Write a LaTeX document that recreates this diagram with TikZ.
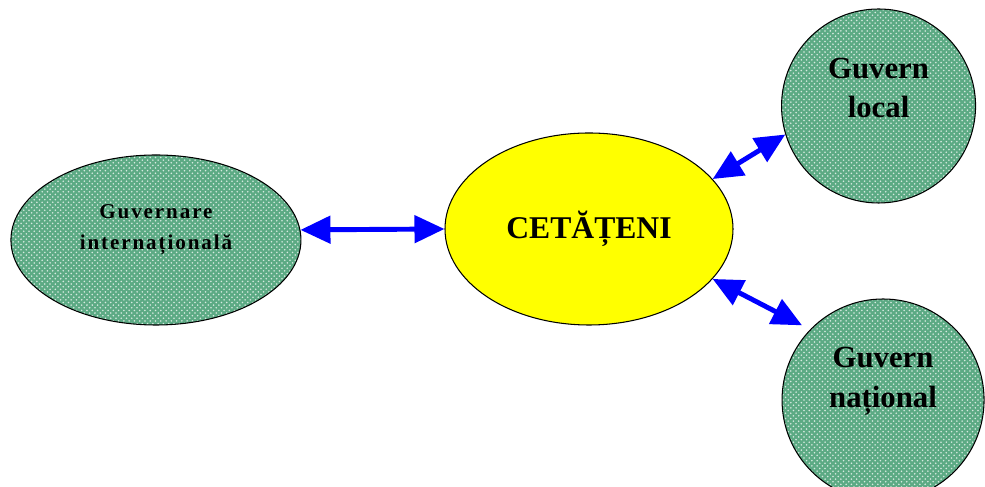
\documentclass[tikz,border=0pt]{standalone}
\usepackage{fontspec}
\setmainfont{Liberation Serif}
\newfontfamily\spacedfont[LetterSpace=9]{Liberation Serif}
\usepackage{tikz}
\usetikzlibrary{arrows.meta, shapes.geometric, positioning, patterns, calc}
\definecolor{govgreen}{RGB}{92,170,132}
\definecolor{citizenyellow}{RGB}{255,255,0}

\begin{document}
\begin{tikzpicture}[
    gov/.style={draw=black, line width=0.6pt, preaction={fill=govgreen}, pattern=crosshatch dots, pattern color=white!75!govgreen, inner sep=0pt},
    txt/.style={align=center, inner sep=0pt},
    link/.style={{Triangle[length=0.6cm,width=0.54cm]}-{Triangle[length=0.6cm,width=0.54cm]}, blue, line width=2.8pt},
    node distance=1cm
  ]
  \useasboundingbox (-11.78,-5.16) rectangle (7.92,4.58);
  % citizens in the middle
  \node[ellipse, draw=black, line width=0.6pt, fill=citizenyellow, minimum width=5.76cm, minimum height=3.84cm, inner sep=0pt,
        font=\bfseries\fontsize{18}{21}\selectfont] (cit) at (0,0) {CETĂȚENI};
  \node[gov, ellipse, minimum width=5.8cm, minimum height=3.4cm] (intl) [left=2.86cm of cit, yshift=-0.22cm] {};
  \node[gov, circle, minimum size=3.88cm] (local) [right=0.95cm of cit, yshift=2.46cm] {};
  \node[gov, circle, minimum size=4.04cm] (national) [right=0.96cm of cit, yshift=-3.42cm] {};

  \node[txt, font=\spacedfont\bfseries\fontsize{12}{17.6}\selectfont] (intltxt) at ([yshift=0.2cm]intl.center) {Guvernare\\internațională};
  \node[txt, font=\bfseries\fontsize{17.5}{22.7}\selectfont] (localtxt) at ([yshift=0.36cm]local.center) {Guvern\\local};
  \node[txt, font=\bfseries\fontsize{17.5}{22.7}\selectfont] (nationaltxt) at ([yshift=0.38cm]national.center) {Guvern\\național};

  \path (intl.4) edge[link] (cit.180);
  \path (cit.22) edge[link] (local.197);
  \path (cit.-22) edge[link, shorten >=0.18cm] (national.136);
\end{tikzpicture}
\end{document}
